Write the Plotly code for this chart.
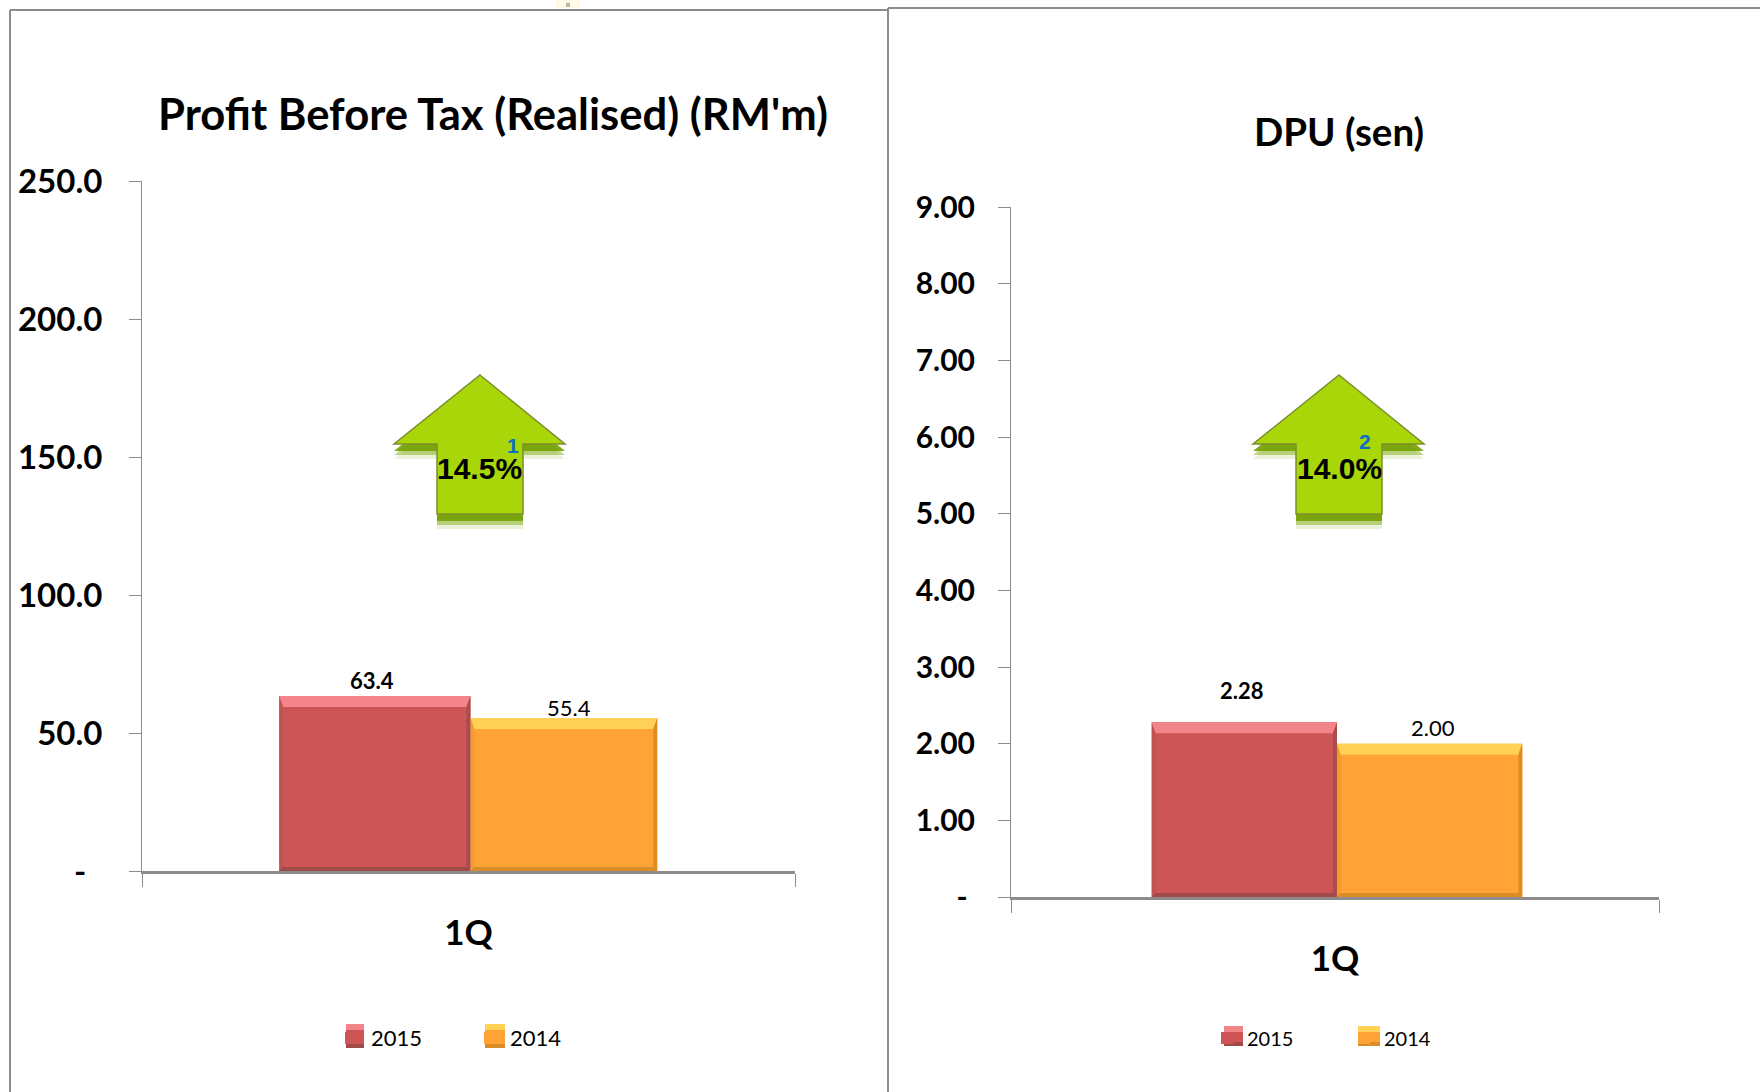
import plotly.graph_objects as go

W, H = 1760, 1092
FONT = "Lato"
NB = "\u00a0"

categories = ["1Q"]
series_names = ["2015", "2014"]
pbt_2015 = [63.4]
pbt_2014 = [55.4]
dpu_2015 = [2.28]
dpu_2014 = [2.00]
pbt_ticks = [0, 50, 100, 150, 200, 250]
pbt_ticktext = ["-" + NB * 2, "50.0", "100.0", "150.0", "200.0", "250.0"]
dpu_ticks = [0, 1, 2, 3, 4, 5, 6, 7, 8, 9]
dpu_ticktext = ["-" + NB, "1.00", "2.00", "3.00", "4.00", "5.00", "6.00", "7.00", "8.00", "9.00"]
pbt_title = "Profit Before Tax (Realised) (RM'm)"
dpu_title = "DPU (sen)"
pbt_change = "14.5%"
dpu_change = "14.0%"

RED, ORANGE = "#CD5555", "#FFA336"
AXIS = "#8C8C8C"


def px(x):
    return x / W


def py(y):
    return 1 - y / H


panels = [
    dict(xa="x", ya="y", xname="xaxis", yname="yaxis", left=142, right=795, top=181, base=871,
         vmax=250, vals=(pbt_2015, pbt_2014), ticks=pbt_ticks, text=pbt_ticktext, edges=(-0.29, 0.003, 0.289),
         standoff=20, legend="legend", title=pbt_title, tx=493, ty=113, tsize=43.6,
         lbl_shift=((-3, 0), (5, -5)), change=pbt_change, ax=480, note="1", nx=513, ny=445,
         lx=331, entry=94, lsize=22, ticksize=33,
         swatches=((346, 364, 1024, 1048), (485, 505, 1024, 1048))),
    dict(xa="x2", ya="y2", xname="xaxis2", yname="yaxis2", left=1011, right=1659, top=207, base=897,
         vmax=9, vals=(dpu_2015, dpu_2014), ticks=dpu_ticks, text=dpu_ticktext, edges=(-0.283, 0.003, 0.289),
         standoff=17, legend="legend2", title=dpu_title, tx=1339, ty=131, tsize=38.5,
         lbl_shift=((-2, 16), (3, 1)), change=dpu_change, ax=1339, note="2", nx=1365, ny=441,
         lx=1207, entry=92, lsize=20, ticksize=30,
         swatches=((1224, 1243, 1026, 1046), (1358, 1380, 1026, 1046))),
]

fig = go.Figure()
shapes, annotations = [], []


def poly(points):
    return "M" + " L".join(f"{a},{b}" for a, b in points) + " Z"


looks = (("#F2848A", "#A04A4A", "#A94C4C"), ("#FFD257", "#D98C28", "#DE8C24"))

for p in panels:
    e = p["edges"]
    for i, (name, vals, color) in enumerate(zip(series_names, p["vals"], (RED, ORANGE))):
        fig.add_trace(go.Bar(
            x=categories, y=vals, name=name, marker=dict(color=color, line=dict(width=0)),
            width=[e[i + 1] - e[i]], offset=[e[i]],
            xaxis=p["xa"], yaxis=p["ya"], legend=p["legend"], hoverinfo="x+y+name",
        ))

    ppx = (p["right"] - p["left"])
    ppy = (p["base"] - p["top"]) / p["vmax"]
    dx, dtop, dbot = 4 / ppx, 11 / ppy, 4 / ppy
    for i, (vals, look) in enumerate(zip(p["vals"], looks)):
        v = vals[0]
        x0, x1 = e[i], e[i + 1]
        refs = dict(type="path", xref=p["xa"], yref=p["ya"], line=dict(width=0), layer="above")
        shapes += [
            dict(path=poly([(x0, v), (x1, v), (x1 - dx, v - dtop), (x0 + dx, v - dtop)]), fillcolor=look[0], **refs),
            dict(path=poly([(x0, 0), (x1, 0), (x1 - dx, dbot), (x0 + dx, dbot)]), fillcolor=look[1], **refs),
            dict(path=poly([(x1, 0), (x1, v), (x1 - dx, v - dtop), (x1 - dx, dbot)]), fillcolor=look[2], **refs),
            dict(path=poly([(x0, 0), (x0, v), (x0 + dx, v - dtop), (x0 + dx, dbot)]), fillcolor=look[2], opacity=0.35, **refs),
        ]
        xs, ys = p["lbl_shift"][i]
        fmt = f"{v:.1f}" if p["vmax"] == 250 else f"{v:.2f}"
        annotations.append(dict(
            x=(x0 + x1) / 2, y=v, xref=p["xa"], yref=p["ya"], text=f"<b>{fmt}</b>" if i == 0 else fmt,
            showarrow=False, xanchor="center", yanchor="bottom", xshift=xs, yshift=ys,
            font=dict(family=FONT, size=22, color="#000000"),
        ))

    for (x0, x1, y0, y1), look, color in zip(p["swatches"], looks, (RED, ORANGE)):
        refs = dict(type="rect", xref="paper", yref="paper", line=dict(width=0), layer="above")
        shapes += [
            dict(x0=px(x0), x1=px(x1), y0=py(y0), y1=py(y1), fillcolor=color, **refs),
            dict(x0=px(x0), x1=px(x1), y0=py(y0), y1=py(y0 + 6), fillcolor=look[0], **refs),
            dict(x0=px(x0), x1=px(x1), y0=py(y1 - 4), y1=py(y1), fillcolor=look[1], **refs),
        ]

    fig.update_layout({
        p["xname"]: dict(
            domain=[px(p["left"]), px(p["right"])], anchor=p["ya"], type="category", range=[-0.5, 0.5],
            showgrid=False, zeroline=False, showline=True, linecolor=AXIS, linewidth=2.5,
            ticks="outside", tickson="boundaries", ticklen=13, tickcolor=AXIS, tickwidth=1,
            tickfont=dict(family=FONT, size=35, color="#000000", weight="bold"),
            ticklabelstandoff=29,
        ),
        p["yname"]: dict(
            domain=[py(p["base"]), py(p["top"])], anchor=p["xa"], range=[0, p["vmax"]],
            tickmode="array", tickvals=p["ticks"], ticktext=p["text"],
            showgrid=False, zeroline=False, showline=True, linecolor=AXIS, linewidth=1,
            ticks="outside", ticklen=12, tickcolor=AXIS, tickwidth=1, ticklabelstandoff=p["standoff"],
            tickfont=dict(family=FONT, size=p["ticksize"], color="#000000", weight="bold"),
        ),
        p["legend"]: dict(
            orientation="h", x=px(p["lx"]), y=py(1038), xanchor="left", yanchor="middle",
            font=dict(family=FONT, size=p["lsize"], color="#000000"), bgcolor="rgba(0,0,0,0)",
            entrywidth=p["entry"], entrywidthmode="pixels", traceorder="normal",
        ),
    })

    annotations.append(dict(
        x=px(p["tx"]), y=py(p["ty"]), xref="paper", yref="paper", text=f"<b>{p['title']}</b>",
        showarrow=False, xanchor="center", yanchor="middle",
        font=dict(family=FONT, size=p["tsize"], color="#000000"),
    ))

    # Rising arrow with its soft shadow
    a = p["ax"]
    outline = [(a, 375), (a + 85, 444), (a + 43, 444), (a + 43, 514), (a - 43, 514), (a - 43, 444), (a - 86, 444)]
    for off, col in ((15, "rgba(130,170,0,0.15)"), (11, "rgba(120,165,0,0.45)"), (7, "rgba(115,160,0,0.9)")):
        shadow = [(px(x), py(y + off)) for x, y in outline]
        shapes.append(dict(type="path", xref="paper", yref="paper", path=poly(shadow),
                           fillcolor=col, line=dict(width=0), layer="above"))
    shapes.append(dict(type="path", xref="paper", yref="paper",
                       path=poly([(px(x), py(y)) for x, y in outline]),
                       fillcolor="#A8D608", line=dict(color="#7C8F2E", width=1.5), layer="above"))
    annotations.append(dict(
        x=px(a), y=py(468), xref="paper", yref="paper", text=f"<b>{p['change']}</b>", showarrow=False,
        xanchor="center", yanchor="middle",
        font=dict(family="Liberation Sans", size=30, color="#000000"),
    ))
    annotations.append(dict(
        x=px(p["nx"]), y=py(p["ny"]), xref="paper", yref="paper", text=f"<b>{p['note']}</b>", showarrow=False,
        xanchor="center", yanchor="middle",
        font=dict(family="Liberation Sans", size=21, color="#0A70C0"),
    ))

# Panel frames
for x0, y0, x1, y1 in ((10, 10, 888, 10), (10, 10, 10, 1092), (888, 8, 888, 1092), (888, 8, 1760, 8)):
    shapes.append(dict(type="line", xref="paper", yref="paper", x0=px(x0), y0=py(y0), x1=px(x1), y1=py(y1),
                       line=dict(color="#8C8C8C", width=2)))

# Small speck at the top edge of the slide
shapes.append(dict(type="rect", xref="paper", yref="paper", x0=px(556), x1=px(580), y0=py(0), y1=py(8),
                   fillcolor="#FFF8E4", line=dict(width=0)))
shapes.append(dict(type="rect", xref="paper", yref="paper", x0=px(566), x1=px(570), y0=py(3), y1=py(7),
                   fillcolor="#B9B9A8", line=dict(width=0)))

fig.update_layout(
    width=W, height=H, margin=dict(l=0, r=0, t=0, b=0, autoexpand=False), autosize=False,
    paper_bgcolor="#FFFFFF", plot_bgcolor="rgba(0,0,0,0)", barmode="overlay",
    shapes=shapes, annotations=annotations, showlegend=True,
    font=dict(family=FONT),
)
fig.update_traces(showlegend=True)

fig.write_html("out.html", post_script="document.body.style.margin='0';", config={"displayModeBar": False})
